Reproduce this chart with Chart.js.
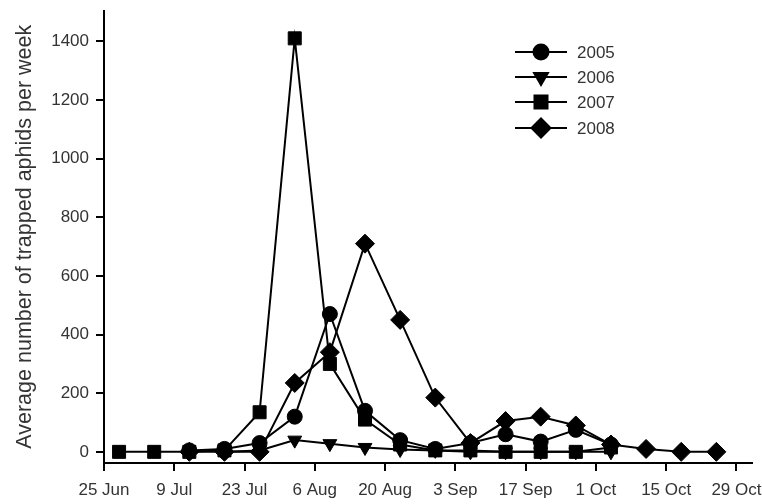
<!DOCTYPE html>
<html>
<head>
<meta charset="utf-8">
<script src="https://cdn.jsdelivr.net/npm/chart.js@4/dist/chart.umd.min.js"></script>
<style>
  html, body { margin: 0; padding: 0; background: #fff; }
</style>
</head>
<body>
<canvas id="aphidChart" width="762" height="504"></canvas>
<script>
// sampling dates, as days after 25 Jun
const sampleDays = [3, 10, 17, 24, 31, 38, 45, 52, 59, 66, 73, 80, 87, 94, 101, 108, 115, 122];

// weekly trap counts per year (null = not sampled)
const y2005 = [null, null, 5, 10, 30, 120, 470, 140, 40, 10, 30, 60, 35, 75, 25, null, null, null];
const y2006 = [null, null, null, 0, 5, 40, 28, 15, 8, 5, 0, 0, 0, 0, 0, null, null, null];
const y2007 = [0, 0, 0, 5, 135, 1410, 300, 110, 25, 5, 5, 0, 0, 0, 15, null, null, null];
const y2008 = [null, null, 0, 0, 0, 235, 340, 710, 450, 185, 30, 105, 120, 90, 25, 10, 0, 0];

const xTickDays = [0, 14, 28, 42, 56, 70, 84, 98, 112, 126];
const xTickLabels = ["25 Jun", "9 Jul", "23 Jul", "6 Aug", "20 Aug", "3 Sep", "17 Sep", "1 Oct", "15 Oct", "29 Oct"];
const yTicks = [0, 200, 400, 600, 800, 1000, 1200, 1400];

const textColor = "#333";
const fontFamily = "'Liberation Sans', Arial, sans-serif";

function toPoints(values) {
    return values
        .map((v, i) => (v === null ? null : { x: sampleDays[i], y: v }))
        .filter(p => p !== null);
}

function series(label, values, style, radius, rotation) {
    return {
        label: label,
        data: toPoints(values),
        borderColor: "#000",
        backgroundColor: "#000",
        borderWidth: 2,
        pointStyle: style,
        pointRadius: radius,
        pointRotation: rotation || 0,
        pointBorderWidth: 1,
        pointBackgroundColor: "#000",
        pointBorderColor: "#000",
        tension: 0,
        fill: false
    };
}

// legend drawn as line + marker inside the plot, like the original figure
const lineLegend = {
    id: "lineLegend",
    afterDraw(chart) {
        const ctx = chart.ctx;
        const rows = [52, 77, 102, 128];
        chart.data.datasets.forEach((ds, i) => {
            const y = rows[i];
            ctx.save();
            ctx.strokeStyle = "#000";
            ctx.lineWidth = 2;
            ctx.beginPath();
            ctx.moveTo(515, y);
            ctx.lineTo(567, y);
            ctx.stroke();
            ctx.fillStyle = "#000";
            Chart.helpers.drawPoint(ctx, {
                pointStyle: ds.pointStyle,
                radius: ds.pointRadius,
                rotation: ds.pointRotation,
                borderWidth: 1
            }, 541, y);
            ctx.fillStyle = textColor;
            ctx.font = "17px " + fontFamily;
            ctx.textBaseline = "middle";
            ctx.textAlign = "left";
            ctx.fillText(ds.label, 577, y + 1);
            ctx.restore();
        });
    }
};

const ctx = document.getElementById("aphidChart").getContext("2d");
new Chart(ctx, {
    type: "line",
    data: {
        datasets: [
            series("2005", y2005, "circle", 7.5),
            series("2006", y2006, "triangle", 8, 180),
            series("2007", y2007, "rect", 9.2),
            series("2008", y2008, "rectRot", 9.5)
        ]
    },
    options: {
        responsive: false,
        animation: false,
        layout: { padding: { top: 10, right: 9, left: 0, bottom: 0 } },
        plugins: {
            legend: { display: false },
            tooltip: { enabled: false }
        },
        scales: {
            x: {
                type: "linear",
                min: 0,
                max: 129,
                afterBuildTicks: axis => { axis.ticks = xTickDays.map(v => ({ value: v })); },
                afterFit: axis => {
                    axis.height = 41;
                    axis.paddingLeft = 0;
                    axis.paddingRight = 0;
                },
                ticks: {
                    autoSkip: false,
                    maxRotation: 0,
                    padding: 9,
                    color: textColor,
                    font: { size: 17, family: fontFamily },
                    callback: v => xTickLabels[xTickDays.indexOf(v)]
                },
                grid: { drawOnChartArea: false, drawTicks: true, tickLength: 8, color: "#000", lineWidth: 2 },
                border: { color: "#000", width: 2 }
            },
            y: {
                min: -38,
                max: 1505,
                afterBuildTicks: axis => { axis.ticks = yTicks.map(v => ({ value: v })); },
                afterFit: axis => {
                    axis.width = 104;
                    axis.paddingTop = 0;
                    axis.paddingBottom = 0;
                },
                ticks: {
                    padding: 7,
                    color: textColor,
                    font: { size: 17, family: fontFamily },
                    callback: v => String(v)
                },
                grid: { drawOnChartArea: false, drawTicks: true, tickLength: 8, color: "#000", lineWidth: 2 },
                border: { color: "#000", width: 2 },
                title: {
                    display: true,
                    text: "Average number of trapped aphids per week",
                    color: textColor,
                    font: { size: 21.5, family: fontFamily },
                    padding: { top: 12, bottom: 0 }
                }
            }
        }
    },
    plugins: [lineLegend]
});
</script>
</body>
</html>
